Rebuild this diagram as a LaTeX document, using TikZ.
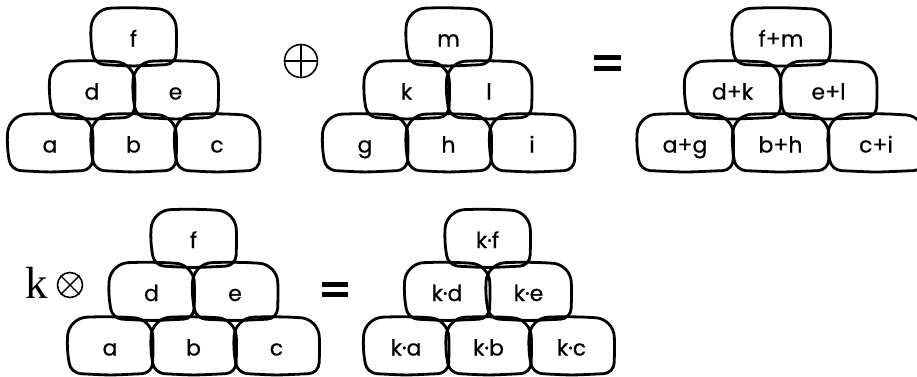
\documentclass[tikz,border=0pt]{standalone}
\usepackage{fontspec}
\setmainfont{Poppins}
\newfontfamily\blkfam{Poppins}[FakeBold=0.6]
\newfontfamily\serifk{Liberation Serif}
\usetikzlibrary{calc}
\newcommand\blkfont{\blkfam\fontsize{22}{22}\selectfont}
\newcommand\drawblob[1]{%
  \draw[blobline] ($(#1.south west)+(3,-1)$) [rounded corners=10pt]
    -- ($(#1.west)+(-1,2)$) [rounded corners=18pt]
    -- ($(#1.north west)+(1,0)$)
    -- ($(#1.north)+(0,-1.5)$)
    -- ($(#1.north east)+(0,1)$) [rounded corners=10pt]
    -- ($(#1.east)+(1,3)$)
    -- ($(#1.south east)+(0,-1)$)
    -- ($(#1.south)+(0,1)$)
    -- cycle;}
\begin{document}
\begin{tikzpicture}[x=1pt,y=-1pt,
  blk/.style={minimum width=#1, minimum height=56pt, inner sep=0pt, font=\blkfont,
    text height=19pt, text depth=0pt},
  blk/.default=84pt,
  blobline/.style={line width=2.8pt, line join=round},
  eqbar/.style={line width=5pt},
  opcirc/.style={circle, draw, line width=1.6pt, inner sep=0pt}]
\useasboundingbox (0,0) rectangle (917,376);
% pyramid 1
\node[blk] (a1) at (50,143) {a};
\node[blk] (b1) at (133.5,143) {b};
\node[blk] (c1) at (217,143) {c};
\node[blk] (d1) at (92,90) {d};
\node[blk] (e1) at (175.5,90) {e};
\node[blk] (f1) at (133.5,37) {f};
% pyramid 2
\node[blk] (g2) at (365,143) {g};
\node[blk] (h2) at (448.5,143) {h};
\node[blk] (i2) at (532,143) {i};
\node[blk] (k2) at (406.5,90) {k};
\node[blk] (l2) at (489,90) {l};
\node[blk] (m2) at (448.5,37) {m};
% pyramid 3
\node[blk=95pt] (a3) at (685,143) {a+g};
\node[blk=95pt] (b3) at (780.5,143) {b+h};
\node[blk=95pt] (c3) at (876,143) {c+i};
\node[blk=95pt] (d3) at (732.5,90) {d+k};
\node[blk=95pt] (e3) at (828.5,90) {e+l};
\node[blk=97pt] (f3) at (781,37) {f+m};
% pyramid 4
\node[blk] (a4) at (110,346) {a};
\node[blk] (b4) at (193.5,346) {b};
\node[blk] (c4) at (276.5,346) {c};
\node[blk] (d4) at (151.5,291.5) {d};
\node[blk] (e4) at (235,291.5) {e};
\node[blk] (f4) at (193.5,238.5) {f};
% pyramid 5
\node[blk] (a5) at (406,346) {k·a};
\node[blk] (b5) at (488.5,346) {k·b};
\node[blk] (c5) at (571.5,346) {k·c};
\node[blk] (d5) at (447,291.5) {k·d};
\node[blk] (e5) at (528.5,291.5) {k·e};
\node[blk] (f5) at (487.5,238.5) {k·f};
\foreach \n in {f1,d1,e1,a1,b1,c1,m2,k2,l2,g2,h2,i2,f3,d3,e3,a3,b3,c3,f4,d4,e4,a4,b4,c4,f5,d5,e5,a5,b5,c5}
  {\drawblob{\n}}
% operators
\node[opcirc, minimum size=33pt] (op1) at (301,61) {};
\draw[line width=1.6pt] (op1.north) -- (op1.south) (op1.west) -- (op1.east);
\node[opcirc, minimum size=25pt] (op2) at (70,285) {};
\draw[line width=1.4pt] (op2.45) -- (op2.225) (op2.135) -- (op2.315);
\node[font=\serifk\fontsize{45}{45}\selectfont, anchor=base, inner sep=0pt] (kk) at (36.5,298) {k};
% equals signs
\coordinate (eq1) at (607.5,63);
\draw[eqbar] ($(eq1)+(-13.5,-5.5)$) -- ++(27,0) ($(eq1)+(-13.5,5.5)$) -- ++(27,0);
\coordinate (eq2) at (335,289.5);
\draw[eqbar, line width=4.6pt] ($(eq2)+(-13,-5.2)$) -- ++(26,0) ($(eq2)+(-13,5.2)$) -- ++(26,0);
\end{tikzpicture}
\end{document}
